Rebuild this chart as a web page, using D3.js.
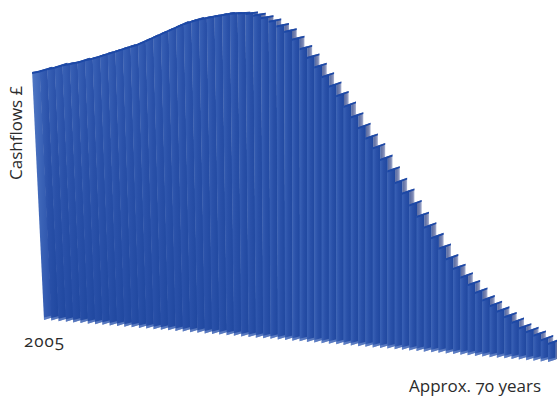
<!DOCTYPE html>
<html><head><meta charset="utf-8">
<script src="https://cdnjs.cloudflare.com/ajax/libs/d3/7.8.5/d3.min.js"></script>
<style>html,body{margin:0;padding:0;background:#fff}svg{display:block}
text{font-family:"Open Sans","Lato",sans-serif;fill:#2b2b2b;font-feature-settings:"onum" 1;font-size:17px}</style>
</head><body><svg id="c" width="557" height="396"></svg>
<script>
const yAxisLabel = "Cashflows £";
const startLabel = "2005";
const endLabel = "Approx. 70 years";
const cashflows = [248,250,253,255,258,260,262,265,267,270,273,276,279,282,285,289,293,297,301,305,309,312,315,317,319,321,323,324,324,323,321,318,314,309,302,293,285,276,267,258,249,239,229,219,209,200,189,178,167,157,146,135,125,115,105,95,86,78,71,64,57,52,47,42,37,32,29,26,22,19];

const svg = d3.select("#c");
const n = cashflows.length;
const x = d3.scaleLinear().domain([0,n-1]).range([44,548]);
const base = d3.scaleLinear().domain([0,n-1]).range([320,362]);
const h = d3.scaleLinear().domain([0,330]).range([0,330]);
const lean = d3.scaleLinear().domain([0,35,n-1]).range([0.048,0,0]);
const rise = d3.scaleLinear().domain([28,40,n-1]).range([1.6,4.4,4.4]).clamp(true);

const defs = svg.append("defs");
function grad(id, stops){
  const g = defs.append("linearGradient").attr("id",id);
  stops.forEach(([o,c])=>g.append("stop").attr("offset",o).attr("stop-color",c));
}
grad("front",[[0,"#3a62b6"],[0.45,"#2a51a9"],[1,"#1f479f"]]);
grad("side",[[0,"#55689f"],[0.6,"#7985b2"],[1,"#aab3d1"]]);
grad("first",[[0,"#5078c4"],[0.5,"#3a62b6"],[1,"#2a51a9"]]);

const W = 7.8, SW = 12.5;
const pts = a => a.map(p=>p.join(",")).join(" ");
const topOf = i => ({x: x(i) - lean(i)*h(cashflows[i]), y: base(i) - h(cashflows[i])});
const bars = svg.append("g").selectAll("g").data(cashflows).join("g");

bars.each(function(v,i){
  const g = d3.select(this);
  const bx = x(i), by = base(i);
  const t = topOf(i);
  let sd = rise(i);
  if(i < 28){
    const nx = topOf(i+1);
    sd = Math.max(0.8,(t.y-nx.y)/(nx.x-t.x)*SW);
  }
  const s = sd/SW, bs = 0.32;
  // side face
  g.append("polygon").attr("points",pts([[t.x+W,t.y-W*s],[t.x+SW,t.y-sd],[bx+SW,by-SW*bs],[bx+W,by-W*bs]])).attr("fill","url(#side)");
  // front face
  g.append("polygon").attr("points",pts([[t.x,t.y],[t.x+W,t.y-W*s],[bx+W,by-W*bs],[bx,by]])).attr("fill",i===0?"url(#first)":"url(#front)");
  // top face
  g.append("polygon").attr("points",pts([[t.x,t.y],[t.x+SW,t.y-sd],[t.x+SW,t.y-sd+1.8],[t.x,t.y+2]])).attr("fill","#1c48a6");
  // base highlight
  g.append("polygon").attr("points",pts([[bx,by],[bx+W,by-W*bs],[bx+W,by-W*bs-2],[bx,by-2.5]])).attr("fill","#7f9ad3").attr("opacity",0.55);
});

svg.append("text").attr("x",24).attr("y",347).attr("letter-spacing",1).text(startLabel);
svg.append("text").attr("x",409).attr("y",392).text(endLabel);
svg.append("text").attr("transform","translate(22,180) rotate(-90)").text(yAxisLabel);
</script></body></html>
